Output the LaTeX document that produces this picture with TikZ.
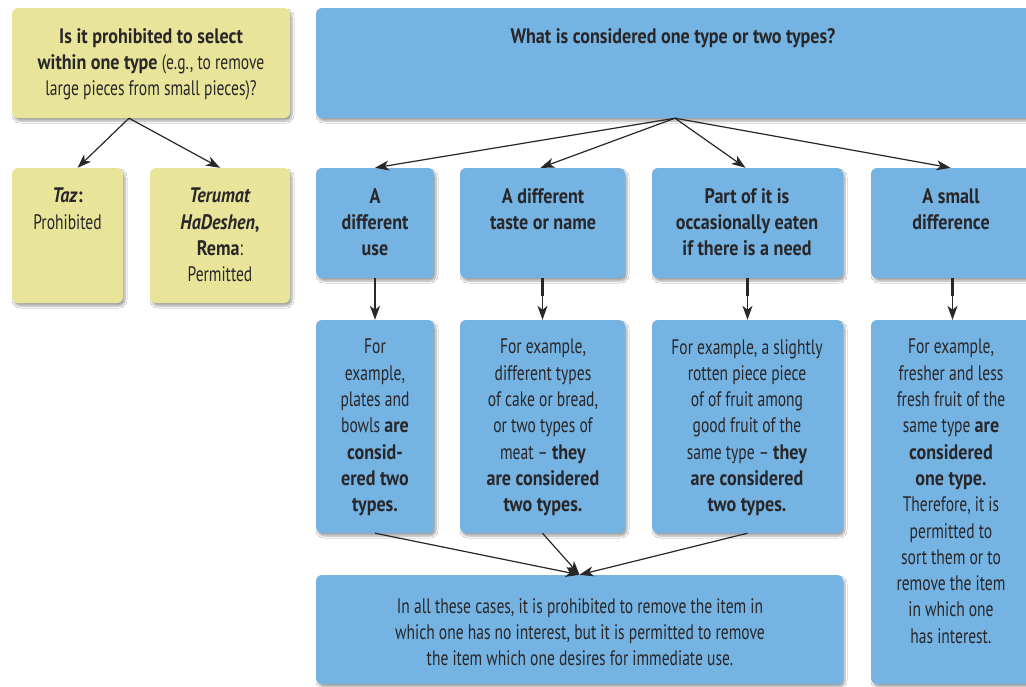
\documentclass[tikz,border=0pt]{standalone}
\usepackage{fontspec}
\setmainfont{PT Sans}[FakeStretch=0.74,
  BoldFeatures={FakeStretch=0.86},
  BoldItalicFeatures={FakeStretch=0.86}]
\usetikzlibrary{arrows.meta,shadows.blur,fit}
\definecolor{ybox}{RGB}{232,229,154}
\definecolor{bbox}{RGB}{117,179,226}
\definecolor{ink}{RGB}{40,38,40}
\begin{document}
\begin{tikzpicture}[x=1pt,y=-1pt,
  box/.style={rounded corners=6pt, inner sep=0pt, draw=none,
    blur shadow={shadow xshift=2pt, shadow yshift=-3pt, shadow blur steps=6, shadow opacity=35}},
  ybx/.style={box, fill=ybox},
  bbx/.style={box, fill=bbox},
  txt/.style={align=center, inner sep=0pt, text=ink, anchor=north,
    font=\fontsize{21}{26.3}\selectfont},
  arr/.style={draw=ink, line width=1.2pt, -{Stealth[length=14pt,width=10pt,inset=4pt]}},
  stub/.style={draw=ink, line width=2.6pt}]
\useasboundingbox[fill=white] (0,0) rectangle (1026,686);

% boxes
\node[ybx, fit={(12,8) (290,118)}] (q1) {};
\node[ybx, fit={(12,168) (123,303)}] (taz) {};
\node[ybx, fit={(150,168) (290,303)}] (ter) {};
\node[bbx, fit={(316,8) (1034,118)}] (q2) {};
\node[bbx, fit={(316,168) (434,278)}] (h1) {};
\node[bbx, fit={(460,168) (625,278)}] (h2) {};
\node[bbx, fit={(652,168) (843,278)}] (h3) {};
\node[bbx, fit={(871,168) (1034,278)}] (h4) {};
\node[bbx, fit={(316,320) (434,533)}] (d1) {};
\node[bbx, fit={(460,320) (625,533)}] (d2) {};
\node[bbx, fit={(652,320) (843,533)}] (d3) {};
\node[bbx, fit={(871,320) (1034,684)}] (d4) {};
\node[bbx, fit={(316,575) (843,684)}] (bot) {};

% texts
\node[txt] (tq1) at (151,28) {\textbf{Is it prohibited to select}\\\textbf{within one type} (e.g., to remove\\large pieces from small pieces)?};
\node[txt] (ttaz) at (67.5,188) {\textbf{\textit{Taz}:}\\Prohibited};
\node[txt] (tter) at (220,188) {\textbf{\textit{Terumat}}\\\textbf{\textit{HaDeshen},}\\\textbf{Rema}:\\Permitted};
\node[txt] (tq2) at (673,28) {\textbf{What is considered one type or two types?}};
\node[txt] (th1) at (375,188) {\textbf{A}\\\textbf{different}\\\textbf{use}};
\node[txt] (th2) at (543,188) {\textbf{A different}\\\textbf{taste or name}};
\node[txt] (th3) at (747,188) {\textbf{Part of it is}\\\textbf{occasionally eaten}\\\textbf{if there is a need}};
\node[txt] (th4) at (951,188) {\textbf{A small}\\\textbf{difference}};
\node[txt] (td1) at (375,339) {For\\example,\\plates and\\bowls \textbf{are}\\\textbf{consid-}\\\textbf{ered two}\\\textbf{types.}};
\node[txt] (td2) at (543,339) {For example,\\different types\\of cake or bread,\\or two types of\\meat – \textbf{they}\\\textbf{are considered}\\\textbf{two types.}};
\node[txt] (td3) at (747,339) {For example, a slightly\\rotten piece piece\\of of fruit among\\good fruit of the\\same type – \textbf{they}\\\textbf{are considered}\\\textbf{two types.}};
\node[txt] (td4) at (951,339) {For example,\\fresher and less\\fresh fruit of the\\same type \textbf{are}\\\textbf{considered}\\\textbf{one type.}\\Therefore, it is\\permitted to\\sort them or to\\remove the item\\in which one\\has interest.};
\node[txt] (tbot) at (580,598) {In all these cases, it is prohibited to remove the item in\\which one has no interest, but it is permitted to remove\\the item which one desires for immediate use.};

% connectors
\draw[arr] ([xshift=-22pt]q1.south) -- ([xshift=10pt]taz.north);
\draw[arr] ([xshift=-22pt]q1.south) -- (ter.north);
\draw[arr] (q2.south) -- (h1.north);
\draw[arr] (q2.south) -- ([xshift=-2pt]h2.north);
\draw[arr] (q2.south) -- ([xshift=-2pt]h3.north);
\draw[arr] (q2.south) -- ([xshift=-2pt]h4.north);
\foreach \h/\d in {h1/d1,h2/d2,h3/d3,h4/d4}{
  \draw[stub] (\h.south) -- ([yshift=-18pt]\h.south);
  \draw[arr] (\h.south) -- (\d.north);
}
\draw[arr] (d1.south) -- (bot.north);
\draw[arr] (d2.south) -- (bot.north);
\draw[arr] (d3.south) -- (bot.north);
\end{tikzpicture}
\end{document}
